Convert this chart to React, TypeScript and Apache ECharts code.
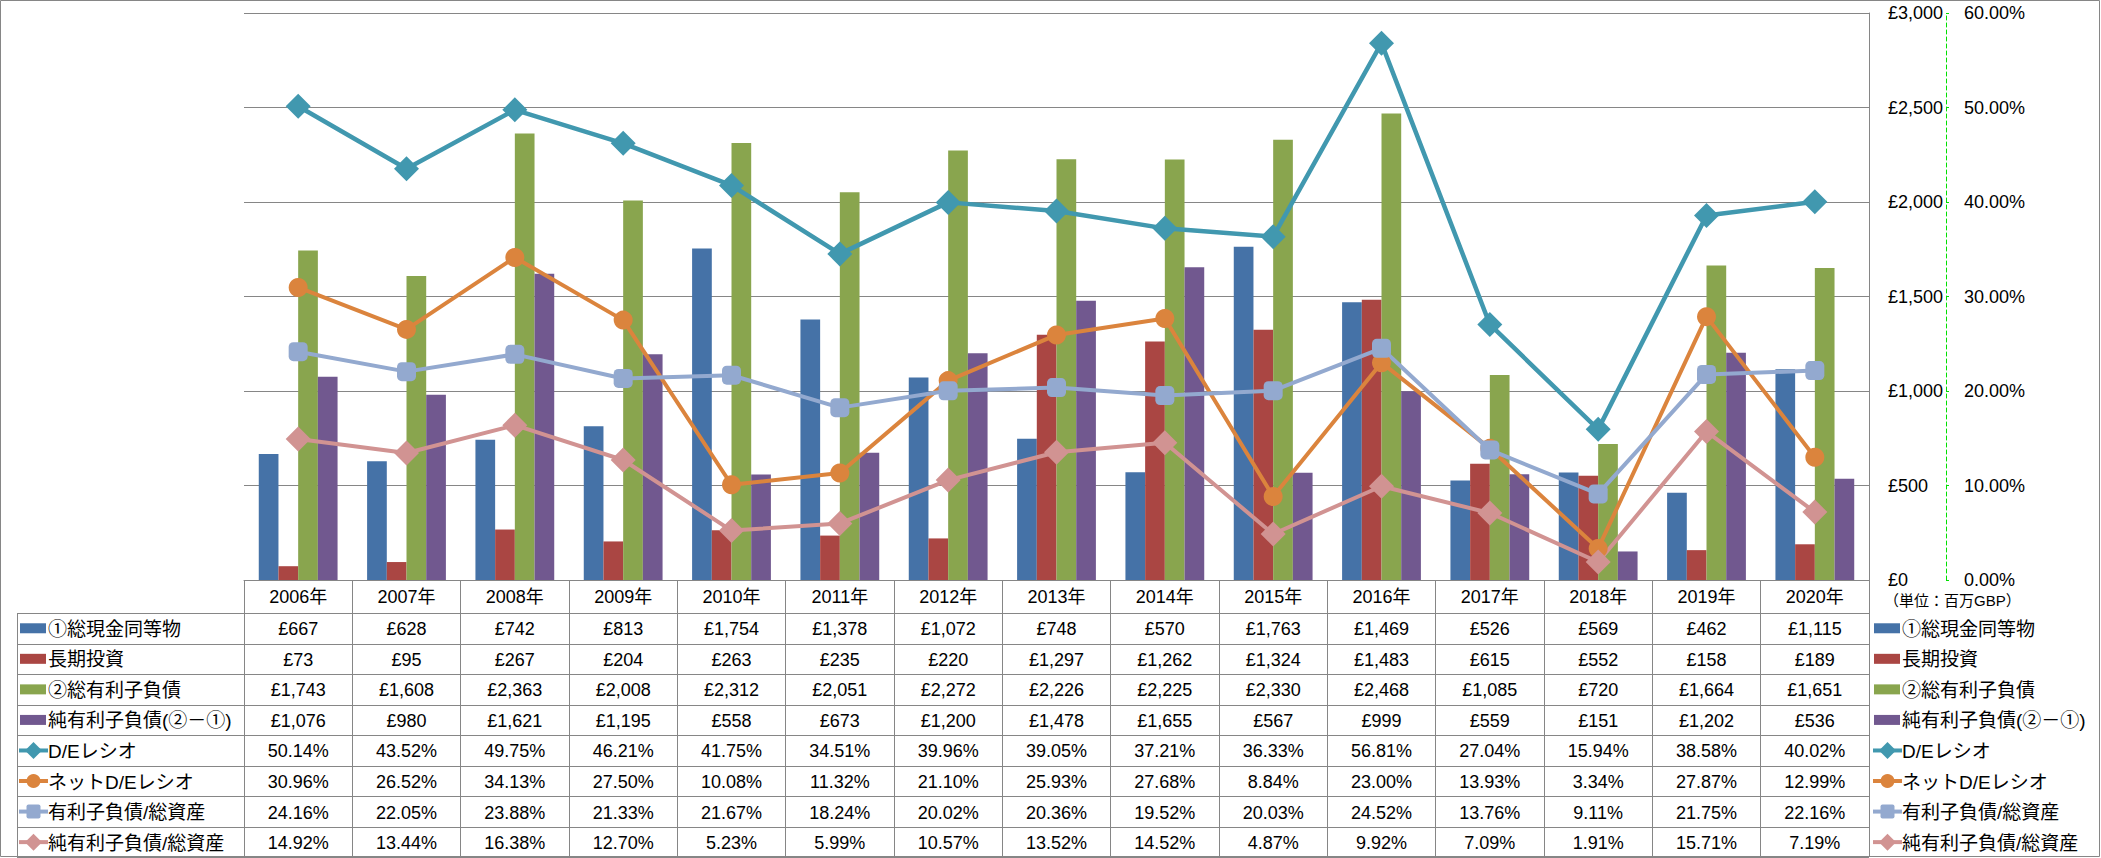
import React, { useEffect, useRef } from "react";
import * as echarts from "echarts";

const years = ["2006年", "2007年", "2008年", "2009年", "2010年", "2011年", "2012年", "2013年", "2014年", "2015年", "2016年", "2017年", "2018年", "2019年", "2020年"];
const cash = [667, 628, 742, 813, 1754, 1378, 1072, 748, 570, 1763, 1469, 526, 569, 462, 1115];
const ltInvest = [73, 95, 267, 204, 263, 235, 220, 1297, 1262, 1324, 1483, 615, 552, 158, 189];
const totalDebt = [1743, 1608, 2363, 2008, 2312, 2051, 2272, 2226, 2225, 2330, 2468, 1085, 720, 1664, 1651];
const netDebt = [1076, 980, 1621, 1195, 558, 673, 1200, 1478, 1655, 567, 999, 559, 151, 1202, 536];
const deRatio = [50.14, 43.52, 49.75, 46.21, 41.75, 34.51, 39.96, 39.05, 37.21, 36.33, 56.81, 27.04, 15.94, 38.58, 40.02];
const netDeRatio = [30.96, 26.52, 34.13, 27.5, 10.08, 11.32, 21.1, 25.93, 27.68, 8.84, 23.0, 13.93, 3.34, 27.87, 12.99];
const debtToAssets = [24.16, 22.05, 23.88, 21.33, 21.67, 18.24, 20.02, 20.36, 19.52, 20.03, 24.52, 13.76, 9.11, 21.75, 22.16];
const netDebtToAssets = [14.92, 13.44, 16.38, 12.7, 5.23, 5.99, 10.57, 13.52, 14.52, 4.87, 9.92, 7.09, 1.91, 15.71, 7.19];

const leftTicks = [0, 500, 1000, 1500, 2000, 2500, 3000];
const rightTicks = [0, 10, 20, 30, 40, 50, 60];
const unitLabel = "（単位：百万GBP）";

type Def = { name: string; kind: "bar" | "line"; data: number[]; color: string; symbol?: string; size?: number; lw?: number };
const defs: Def[] = [
  { name: "①総現金同等物", kind: "bar", data: cash, color: "#4572A7" },
  { name: "長期投資", kind: "bar", data: ltInvest, color: "#AA4643" },
  { name: "②総有利子負債", kind: "bar", data: totalDebt, color: "#89A54E" },
  { name: "純有利子負債(②－①)", kind: "bar", data: netDebt, color: "#71588F" },
  { name: "D/Eレシオ", kind: "line", data: deRatio, color: "#4198AF", symbol: "diamond", size: 25, lw: 4.5 },
  { name: "ネットD/Eレシオ", kind: "line", data: netDeRatio, color: "#DB843D", symbol: "circle", size: 19, lw: 4 },
  { name: "有利子負債/総資産", kind: "line", data: debtToAssets, color: "#93A9CF", symbol: "roundRect", size: 19, lw: 4 },
  { name: "純有利子負債/総資産", kind: "line", data: netDebtToAssets, color: "#D19392", symbol: "diamond", size: 25, lw: 4 },
];

const FONT = "'Liberation Sans', 'Noto Sans CJK JP', sans-serif";
const GRID_LEFT = 244;
const GRID_RIGHT_X = 1869;
const GRID_TOP = 13;
const GRID_BOTTOM_Y = 580;
const W = 2101;
const H = 858;
const HEADER_BOTTOM = 613;
const ROW_H = 30.55;
const TABLE_LEFT = 17;
const GRAY = "#868686";

const fmtMoney = (v: number) => "£" + v.toLocaleString("en-US");
const fmtPct = (v: number) => v.toFixed(2) + "%";

function legendIcon(d: Def, x0: number, cy: number): any[] {
  if (d.kind === "bar") {
    return [{ type: "rect", shape: { x: x0, y: cy - 5, width: 26, height: 10 }, style: { fill: d.color } }];
  }
  const els: any[] = [
    { type: "line", shape: { x1: x0 - 1, y1: cy, x2: x0 + 28, y2: cy }, style: { stroke: d.color, lineWidth: 4 } },
  ];
  const cx = x0 + 13.5;
  if (d.symbol === "diamond") {
    els.push({ type: "polygon", shape: { points: [[cx, cy - 8.5], [cx + 8.5, cy], [cx, cy + 8.5], [cx - 8.5, cy]] }, style: { fill: d.color } });
  } else if (d.symbol === "circle") {
    els.push({ type: "circle", shape: { cx, cy, r: 7 }, style: { fill: d.color } });
  } else {
    els.push({ type: "rect", shape: { x: cx - 7, y: cy - 7, width: 14, height: 14, r: 2 }, style: { fill: d.color } });
  }
  return els;
}

function txt(text: string, x: number, y: number, size: number, align: string) {
  return {
    type: "text",
    x,
    y,
    silent: true,
    style: { text, fill: "#000", fontSize: size, fontFamily: FONT, align, textAlign: align, verticalAlign: "middle", textVerticalAlign: "middle" },
  };
}

export default function App() {
  const ref = useRef<HTMLDivElement>(null);
  useEffect(() => {
    if (!ref.current) return;
    const chart = echarts.init(ref.current, null, { renderer: "svg" });
    const series: any[] = defs.map((d) =>
      d.kind === "bar"
        ? { name: d.name, type: "bar", data: d.data, yAxisIndex: 0, barWidth: 19.7, barGap: "0%", itemStyle: { color: d.color }, z: 2 }
        : {
            name: d.name,
            type: "line",
            data: d.data,
            yAxisIndex: 1,
            symbol: d.symbol,
            symbolSize: d.size,
            showAllSymbol: true,
            lineStyle: { color: d.color, width: d.lw },
            itemStyle: { color: d.color },
            z: 3,
          }
    );
    chart.setOption({
      animation: false,
      backgroundColor: "#fff",
      textStyle: { fontFamily: FONT },
      grid: { left: GRID_LEFT, right: W - GRID_RIGHT_X, top: GRID_TOP, bottom: H - GRID_BOTTOM_Y, containLabel: false },
      legend: { show: false },
      tooltip: { show: false },
      xAxis: {
        type: "category",
        data: years,
        boundaryGap: true,
        axisLine: { show: true, lineStyle: { color: GRAY, width: 1 } },
        axisTick: { show: true, interval: 0, length: H - 1 - GRID_BOTTOM_Y, lineStyle: { color: GRAY, width: 1 } },
        axisLabel: { show: true, interval: 0, margin: 8, color: "#000", fontSize: 18, fontFamily: FONT },
        splitLine: { show: false },
      },
      yAxis: [
        {
          type: "value",
          position: "right",
          min: leftTicks[0],
          max: leftTicks[leftTicks.length - 1],
          interval: 500,
          axisLine: { show: true, lineStyle: { color: GRAY, width: 1 } },
          axisTick: { show: false },
          axisLabel: { margin: 19, color: "#000", fontSize: 18, fontFamily: FONT, formatter: (v: number) => fmtMoney(v) },
          splitLine: { show: true, lineStyle: { color: GRAY, width: 1 } },
        },
        {
          type: "value",
          position: "right",
          offset: 77,
          min: rightTicks[0],
          max: rightTicks[rightTicks.length - 1],
          interval: 10,
          axisLine: { show: true, lineStyle: { color: "#00E000", width: 1, type: [4, 3] } },
          axisTick: { show: true, length: 3, lineStyle: { color: "#00E000", width: 1 } },
          axisLabel: { margin: 18, color: "#000", fontSize: 18, fontFamily: FONT, formatter: (v: number) => fmtPct(v) },
          splitLine: { show: false },
        },
      ],
      series,
    });

    const els: any[] = [];
    // outer border
    els.push({ type: "rect", shape: { x: 0.5, y: 0.5, width: W - 2, height: H - 2 }, style: { fill: "none", stroke: GRAY, lineWidth: 1 }, silent: true });
    // table horizontal lines
    for (let k = 0; k <= defs.length; k++) {
      const y = Math.round(HEADER_BOTTOM + k * ROW_H) + 0.5;
      els.push({ type: "line", shape: { x1: TABLE_LEFT, y1: y, x2: GRID_RIGHT_X, y2: y }, style: { stroke: GRAY, lineWidth: 1 }, silent: true });
    }
    els.push({ type: "line", shape: { x1: TABLE_LEFT + 0.5, y1: HEADER_BOTTOM, x2: TABLE_LEFT + 0.5, y2: H - 1 }, style: { stroke: GRAY, lineWidth: 1 }, silent: true });

    defs.forEach((d, k) => {
      const cy = HEADER_BOTTOM + (k + 0.5) * ROW_H;
      // left table legend
      els.push(...legendIcon(d, 20, cy));
      els.push(txt(d.name, 48, cy + 1, 19, "left"));
      // right legend
      els.push(...legendIcon(d, 1874, cy));
      els.push(txt(d.name, 1902, cy + 1, 19, "left"));
      // values
      years.forEach((yr, i) => {
        const cx = chart.convertToPixel({ xAxisIndex: 0 }, i) as unknown as number;
        const v = d.data[i];
        els.push(txt(d.kind === "bar" ? fmtMoney(v) : fmtPct(v), cx, cy + 1, 18, "center"));
      });
    });
    els.push(txt(unitLabel, 1884, 600, 15, "left"));

    chart.setOption({ graphic: { elements: els } });

    return () => chart.dispose();
  }, []);
  return <div ref={ref} style={{ position: "absolute", left: 0, top: 0, width: W, height: H }} />;
}
